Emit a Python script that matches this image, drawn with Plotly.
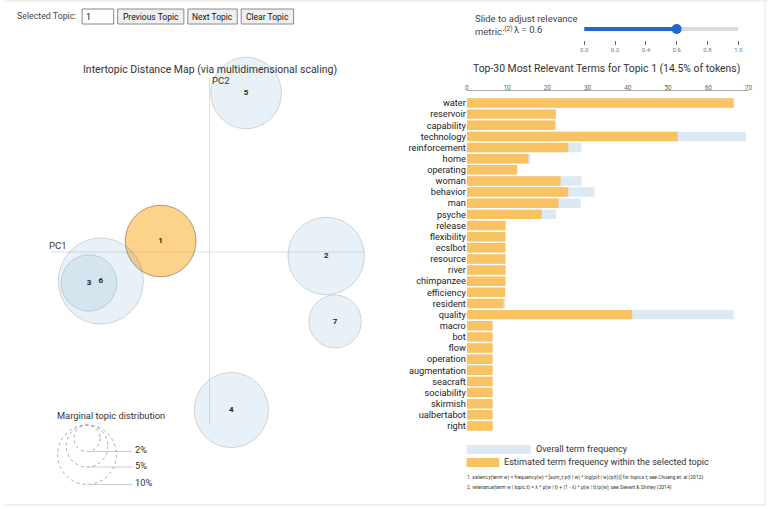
"""Recreate a pyLDAvis topic view: intertopic distance map + top-30 relevant terms."""

import numpy as np
import plotly.graph_objects as go

W, H = 773, 509

# ---- topic map data (MDS coordinates, marginal share in %) ----
topic_ids = [1, 2, 3, 4, 5, 6, 7]
topic_pc1 = [-0.0495, 0.118, -0.122, 0.022, 0.037, -0.110, 0.127]
topic_pc2 = [0.011, -0.004, -0.031, -0.158, 0.159, -0.029, -0.0695]
topic_pct = [14.5, 17.0, 9.0, 16.0, 14.5, 21.0, 8.0]
selected_topic = 1

legend_pct = [2, 5, 10]

# ---- term bars for the selected topic ----
terms = [
    "water", "reservoir", "capability", "technology", "reinforcement", "home",
    "operating", "woman", "behavior", "man", "psyche", "release", "flexibility",
    "ecslbot", "resource", "river", "chimpanzee", "efficiency", "resident",
    "quality", "macro", "bot", "flow", "operation", "augmentation", "seacraft",
    "sociability", "skirmish", "ualbertabot", "right",
]
overall_freq = [
    66.3, 22.1, 22.0, 69.4, 28.5, 15.8, 12.5, 28.5, 31.7, 28.3, 22.2, 9.6, 9.6,
    9.6, 9.6, 9.6, 9.6, 9.5, 9.6, 66.3, 6.4, 6.4, 6.4, 6.4, 6.4, 6.4, 6.4, 6.4,
    6.4, 6.4,
]
topic_freq = [
    66.3, 22.1, 22.0, 52.4, 25.2, 15.3, 12.5, 23.3, 25.2, 22.8, 18.6, 9.6, 9.6,
    9.6, 9.6, 9.6, 9.6, 9.5, 9.1, 41.1, 6.4, 6.4, 6.4, 6.4, 6.4, 6.4, 6.4, 6.4,
    6.4, 6.4,
]
bar_ticks = [0, 10, 20, 30, 40, 50, 60, 70]

lambda_value = 0.6
slider_ticks = [0.0, 0.2, 0.4, 0.6, 0.8, 1.0]

FONT = "Roboto, 'Open Sans', sans-serif"
TXT = "#333333"
ORANGE = "#f9c262"
BLUE_BAR = "#dde9f2"


def px(x):
    return x / W


def py(y):
    return 1 - y / H


def note(text, x, y, size=9.5, xanchor="left", color=TXT, **kw):
    return dict(
        text=text, x=px(x), y=py(y), xref="paper", yref="paper",
        xanchor=xanchor, yanchor="middle", showarrow=False,
        font=dict(family=FONT, size=size, color=color), **kw,
    )


def prect(x0, y0, x1, y1, **kw):
    return dict(type="rect", xref="paper", yref="paper",
                x0=px(x0), x1=px(x1), y0=py(y1), y1=py(y0), **kw)


fig = go.Figure()
shapes = []
annotations = []

# ---- intertopic distance map ----
R_SCALE = 0.0094  # radius per sqrt(% of tokens)
shapes.append(dict(type="line", xref="x", yref="y", x0=-0.160, x1=0.157, y0=0, y1=0,
                   line=dict(color="#dddddd", width=1), layer="below"))
shapes.append(dict(type="line", xref="x", yref="y", x0=0, x1=0, y0=0.174, y1=-0.172,
                   line=dict(color="#dddddd", width=1), layer="below"))

for tid, cx, cy, pct in zip(topic_ids, topic_pc1, topic_pc2, topic_pct):
    r = R_SCALE * np.sqrt(pct)
    if tid == selected_topic:
        fill, edge = "rgba(252,180,60,0.6)", "rgba(110,90,50,0.55)"
    else:
        fill, edge = "rgba(120,170,210,0.17)", "rgba(0,0,0,0.15)"
    shapes.append(dict(type="circle", xref="x", yref="y",
                       x0=cx - r, x1=cx + r, y0=cy - r, y1=cy + r,
                       fillcolor=fill, line=dict(color=edge, width=1), layer="below"))

fig.add_trace(go.Scatter(
    x=topic_pc1, y=topic_pc2, mode="text", text=[f"<b>{t}</b>" for t in topic_ids],
    textfont=dict(family=FONT, size=8, color="#222222"), hoverinfo="skip",
    xaxis="x", yaxis="y", showlegend=False,
))

annotations.append(dict(text="PC1", x=-0.164, y=-0.001, xref="x", yref="y",
                        xanchor="left", yanchor="bottom", showarrow=False,
                        font=dict(family=FONT, size=9.5, color=TXT)))
annotations.append(dict(text="PC2", x=0.0, y=0.172, xref="x", yref="y",
                        xanchor="left", yanchor="middle", showarrow=False,
                        font=dict(family=FONT, size=9.5, color=TXT)))
annotations.append(note("Intertopic Distance Map (via multidimensional scaling)",
                        208, 69, size=10.5, xanchor="center"))

# marginal topic distribution legend
leg_cx, leg_top = -0.124, -0.173
annotations.append(note("Marginal topic distribution", 108, 415, size=9.3,
                        xanchor="center"))
for pct in legend_pct:
    r = R_SCALE * np.sqrt(pct)
    shapes.append(dict(type="circle", xref="x", yref="y",
                       x0=leg_cx - r, x1=leg_cx + r, y0=leg_top - 2 * r, y1=leg_top,
                       line=dict(color="#aaaaaa", width=1, dash="dot"), layer="below"))
    shapes.append(dict(type="line", xref="x", yref="y",
                       x0=leg_cx, x1=leg_cx + 0.046, y0=leg_top - 2 * r, y1=leg_top - 2 * r,
                       line=dict(color="#cccccc", width=1), layer="below"))
    annotations.append(dict(text=f"{pct}%", x=leg_cx + 0.047, y=leg_top - 2 * r + 0.002,
                            xref="x", yref="y", xanchor="left", yanchor="middle",
                            showarrow=False, font=dict(family=FONT, size=9.3, color=TXT)))

# ---- bar chart ----
fig.add_trace(go.Bar(
    y=terms, x=overall_freq, orientation="h", marker=dict(color=BLUE_BAR, line_width=0),
    width=0.85, xaxis="x2", yaxis="y2", showlegend=False, name="Overall",
))
fig.add_trace(go.Bar(
    y=terms, x=topic_freq, orientation="h", marker=dict(color=ORANGE, line_width=0),
    width=0.85, xaxis="x2", yaxis="y2", showlegend=False, name="Topic",
))
annotations.append(note("Top-30 Most Relevant Terms for Topic 1 (14.5% of tokens)",
                        610, 68, size=10.4, xanchor="center"))

# bar legend + footnotes
shapes.append(prect(468, 445, 533, 454, fillcolor=BLUE_BAR, line_width=0))
shapes.append(prect(468, 458, 501, 467, fillcolor=ORANGE, line_width=0))
annotations.append(note("Overall term frequency", 536, 449, size=9.1))
annotations.append(note("Estimated term frequency within the selected topic", 504, 462, size=9.1))
annotations.append(note(
    "1. saliency(term w) = frequency(w) * [sum_t p(t | w) * log(p(t | w)/p(t))] for topics t; "
    "see Chuang et. al (2012)", 466, 477, size=5))
annotations.append(note(
    "2. relevance(term w | topic t) = λ * p(w | t) + (1 - λ) * p(w | t)/p(w); "
    "see Sievert &amp; Shirley (2014)", 466, 487, size=5))

# ---- lambda slider ----
fig.add_trace(go.Scatter(x=[0, 1], y=[0.55, 0.55], mode="lines",
                         line=dict(color="#dcdcdc", width=4), xaxis="x3", yaxis="y3",
                         hoverinfo="skip", showlegend=False))
fig.add_trace(go.Scatter(x=[0, lambda_value], y=[0.55, 0.55], mode="lines",
                         line=dict(color="#1a6ccc", width=4), xaxis="x3", yaxis="y3",
                         hoverinfo="skip", showlegend=False))
fig.add_trace(go.Scatter(x=[lambda_value], y=[0.55], mode="markers",
                         marker=dict(color="#1a6ccc", size=10), xaxis="x3", yaxis="y3",
                         hoverinfo="skip", showlegend=False))
annotations.append(note("Slide to adjust relevance", 475, 19, size=9.5, color="#444444"))
annotations.append(note("metric:<sup>(2)</sup>", 475, 31, size=9.5, color="#444444"))
annotations.append(note(f"λ = {lambda_value}", 514, 30, size=9.5, color="#444444"))

# ---- topic selection controls ----
annotations.append(note("Selected Topic:", 11, 16, size=8.8, color="#444444"))
shapes.append(prect(79, 9, 111, 24, fillcolor="white", line=dict(color="#858585", width=1)))
annotations.append(note("1", 81, 16.5, size=8.8, color="#111111"))
for label, x0, x1 in [("Previous Topic", 115, 182), ("Next Topic", 186, 236),
                      ("Clear Topic", 240, 293)]:
    shapes.append(prect(x0, 9, x1, 24, fillcolor="#efefef",
                        line=dict(color="#8a8a8a", width=1)))
    annotations.append(note(label, (x0 + x1) / 2, 16.5, size=8.5, xanchor="center",
                            color="#111111"))

# frame
shapes.append(dict(type="line", xref="paper", yref="paper", x0=0, x1=1, y0=py(1), y1=py(1),
                   line=dict(color="#e3e3e3", width=1)))
shapes.append(dict(type="line", xref="paper", yref="paper", x0=px(770), x1=px(770),
                   y0=py(1), y1=py(505), line=dict(color="#e3e3e3", width=1)))
shapes.append(dict(type="line", xref="paper", yref="paper", x0=0, x1=px(770),
                   y0=py(505), y1=py(505), line=dict(color="#e3e3e3", width=1)))

hidden = dict(visible=False, fixedrange=True)
fig.update_layout(
    width=W, height=H, margin=dict(l=0, r=0, t=0, b=0),
    paper_bgcolor="white", plot_bgcolor="rgba(0,0,0,0)",
    font=dict(family=FONT, color=TXT),
    barmode="overlay", bargap=0.15,
    xaxis=dict(domain=[0, 416 / W], range=[-0.208, 0.208], **hidden),
    yaxis=dict(domain=[0, 1], range=[-0.257, 0.252], **hidden),
    xaxis2=dict(domain=[468.3 / W, 753.3 / W], range=[0, 70], anchor="y2", side="top",
                tickvals=bar_ticks, showgrid=False, zeroline=False, showline=True,
                linecolor="#aaaaaa", linewidth=1, ticks="", ticklabelstandoff=-3,
                tickfont=dict(family=FONT, size=6.5, color="#666666"),
                fixedrange=True),
    yaxis2=dict(domain=[py(432), py(91)], range=[29.54, -1.077], anchor="x2",
                type="category", categoryarray=terms, tickmode="array",
                tickvals=terms, ticktext=terms, showgrid=False, zeroline=False,
                showline=False, ticks="", tickfont=dict(family=FONT, size=9.2, color="#222222"),
                fixedrange=True),
    xaxis3=dict(domain=[587 / W, 743 / W], range=[0, 1], anchor="y3",
                tickvals=slider_ticks, ticktext=[f"{v:.1f}" for v in slider_ticks],
                showgrid=False, zeroline=False, showline=False, ticks="outside",
                ticklen=4, tickcolor="#666666",
                tickfont=dict(family=FONT, size=6, color="#777777"), fixedrange=True),
    yaxis3=dict(domain=[py(40), py(20)], range=[0, 1], anchor="x3", **hidden),
    shapes=shapes,
    annotations=annotations,
)

# the page's default body margin would push the figure off the window
fig.write_html("out.html", config={"displayModeBar": False},
               post_script="document.body.style.margin='0';")
